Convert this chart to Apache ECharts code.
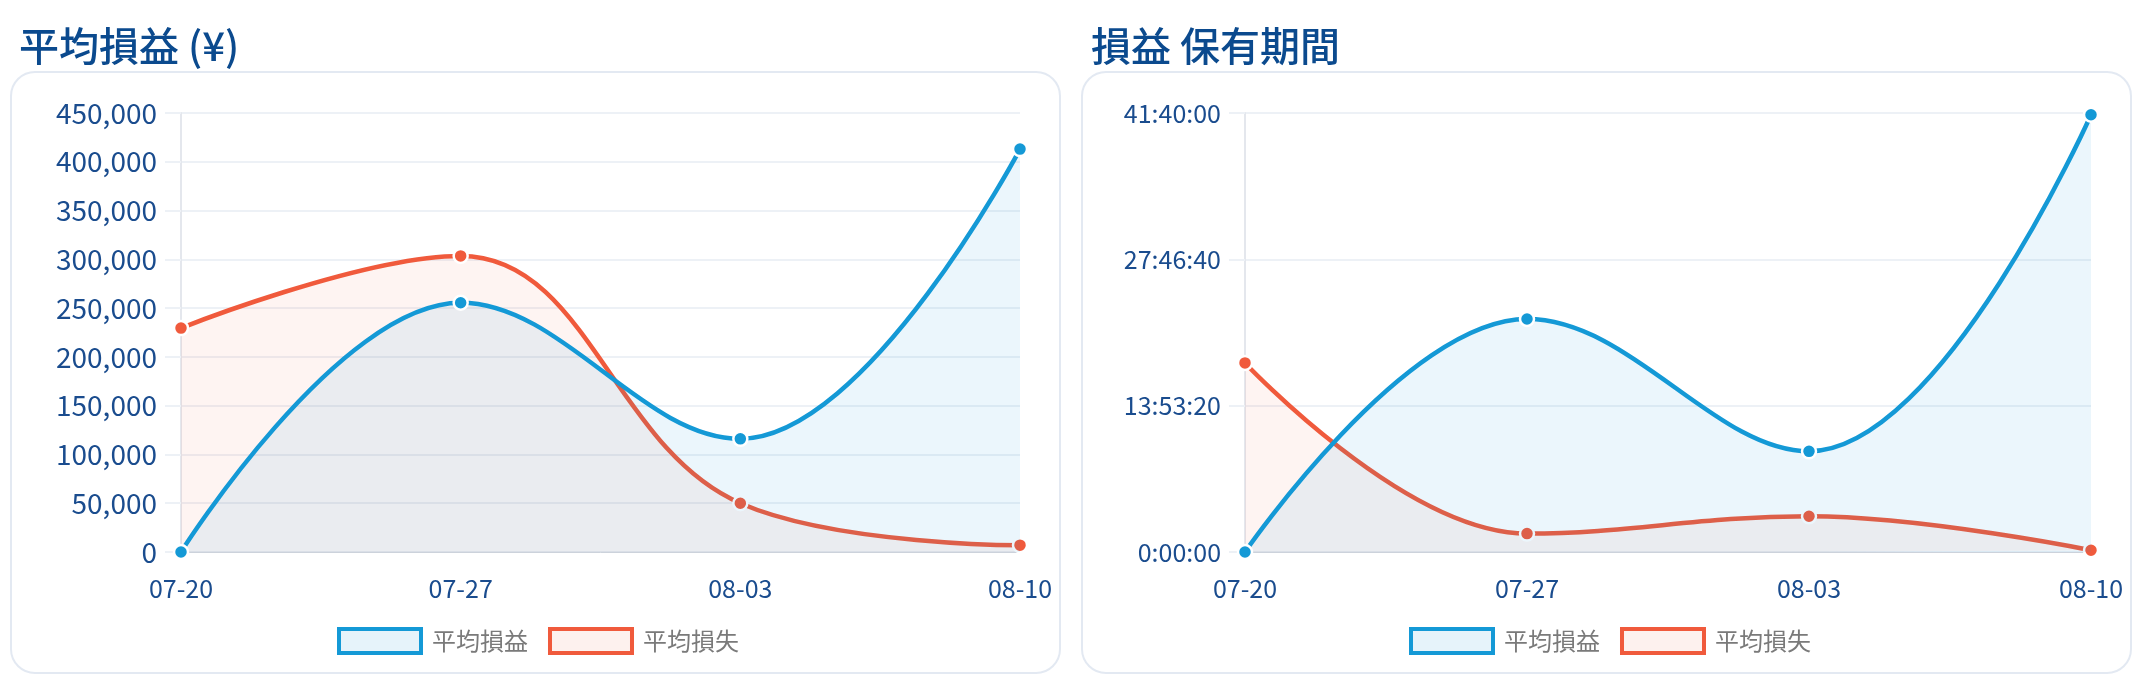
<!DOCTYPE html>
<html>
<head>
<meta charset="utf-8">
<script src="https://cdn.jsdelivr.net/npm/echarts@6/dist/echarts.min.js"></script>
<style>
  html, body { margin: 0; padding: 0; background: #ffffff; }
  #chart { width: 2144px; height: 686px; }
</style>
</head>
<body>
<div id="chart"></div>
<script>
// ---- data ----
const dates = ['07-20', '07-27', '08-03', '08-10'];
const seriesNames = ['平均損益', '平均損失'];
const avgGain = [0, 255500, 116000, 413000];
const avgLoss = [229500, 303500, 50000, 7000];
const holdGainSec = [0, 79600, 34400, 149400];
const holdLossSec = [64600, 6300, 12200, 600];
const titles = ['平均損益 (¥)', '損益 保有期間'];

// ---- style ----
const FONT = '"Noto Sans CJK JP", "Noto Sans", sans-serif';
const BLUE = '#1499d6';
const RED = '#f05a3c';
const BLUE_FILL = 'rgba(20,155,215,0.12)';
const RED_FILL = 'rgba(240,90,60,0.095)';
const TITLE_C = '#0b4a8e';
const LABEL_C = '#1a4c8e';
const GRID_C = '#edf1f6';

function fmtDuration(s) {
  const h = Math.floor(s / 3600);
  const m = Math.floor((s % 3600) / 60);
  const sec = Math.floor(s % 60);
  return h + ':' + String(m).padStart(2, '0') + ':' + String(sec).padStart(2, '0');
}

const chart = echarts.init(document.getElementById('chart'), null, { renderer: 'canvas' });

function yAxisCfg(gridIndex, max, fontSize, formatter) {
  return {
    type: 'value', gridIndex, min: 0, max, interval: 50000,
    axisLine: { show: true, lineStyle: { color: '#e4e7ed', width: 2 } },
    axisTick: { show: true, length: 16, lineStyle: { color: GRID_C, width: 2 } },
    splitLine: { show: true, lineStyle: { color: GRID_C, width: 2 } },
    axisLabel: { margin: 24, fontSize, color: LABEL_C, fontFamily: FONT, formatter }
  };
}
function xAxisCfg(gridIndex) {
  return {
    type: 'category', gridIndex, data: dates, boundaryGap: false,
    axisLine: { show: true, lineStyle: { color: '#ccd2db', width: 1 } },
    axisTick: { show: false },
    splitLine: { show: false },
    axisLabel: { margin: 24, fontSize: 25, color: LABEL_C, fontFamily: FONT }
  };
}
function lineSeries(name, data, idx, color, fill, z) {
  return {
    type: 'line', name, data, xAxisIndex: idx, yAxisIndex: idx,
    smooth: 0.4, symbol: 'circle', symbolSize: 14, showSymbol: true, z,
    lineStyle: { color, width: 4.5 },
    itemStyle: { color, borderColor: '#ffffff', borderWidth: 2.5 },
    areaStyle: { color: fill, origin: 'start' },
    emphasis: { disabled: true }
  };
}
function legendCfg(left) {
  return {
    left, top: 627, padding: 0, itemWidth: 82, itemHeight: 24, itemGap: 20,
    textStyle: { fontSize: 24, color: '#7a7a7a', fontFamily: FONT, lineHeight: 28, padding: [0, 0, 0, 6] },
    data: [
      { name: seriesNames[0], icon: 'rect', itemStyle: { color: '#e6f3fa', borderColor: BLUE, borderWidth: 4 } },
      { name: seriesNames[1], icon: 'rect', itemStyle: { color: '#fdf1ee', borderColor: RED, borderWidth: 4 } }
    ],
    selectedMode: false
  };
}

const option = {
  animation: false,
  backgroundColor: '#ffffff',
  textStyle: { fontFamily: FONT },
  graphic: {
    elements: [
      { type: 'rect', z: -100, silent: true, shape: { x: 11, y: 72, width: 1049, height: 601, r: 24 },
        style: { fill: '#ffffff', stroke: '#e3e9f2', lineWidth: 2 } },
      { type: 'rect', z: -100, silent: true, shape: { x: 1082, y: 72, width: 1049, height: 601, r: 24 },
        style: { fill: '#ffffff', stroke: '#e3e9f2', lineWidth: 2 } }
    ]
  },
  title: [
    { text: titles[0], left: 19, top: 26, padding: 0,
      textStyle: { fontSize: 40, fontWeight: 500, color: TITLE_C, fontFamily: FONT } },
    { text: titles[1], left: 1091, top: 26, padding: 0,
      textStyle: { fontSize: 40, fontWeight: 500, color: TITLE_C, fontFamily: FONT } }
  ],
  grid: [
    { left: 181, top: 113, width: 839, height: 439, containLabel: false },
    { left: 1245, top: 113, width: 846, height: 439, containLabel: false }
  ],
  xAxis: [xAxisCfg(0), xAxisCfg(1)],
  yAxis: [
    yAxisCfg(0, 450000, 28, v => v.toLocaleString('en-US')),
    yAxisCfg(1, 150000, 25, v => fmtDuration(v))
  ],
  legend: [legendCfg(337), legendCfg(1409)],
  series: [
    lineSeries(seriesNames[0], avgGain, 0, BLUE, BLUE_FILL, 3),
    lineSeries(seriesNames[1], avgLoss, 0, RED, RED_FILL, 2),
    lineSeries(seriesNames[0], holdGainSec, 1, BLUE, BLUE_FILL, 3),
    lineSeries(seriesNames[1], holdLossSec, 1, RED, RED_FILL, 2)
  ]
};
chart.setOption(option);
</script>
</body>
</html>
